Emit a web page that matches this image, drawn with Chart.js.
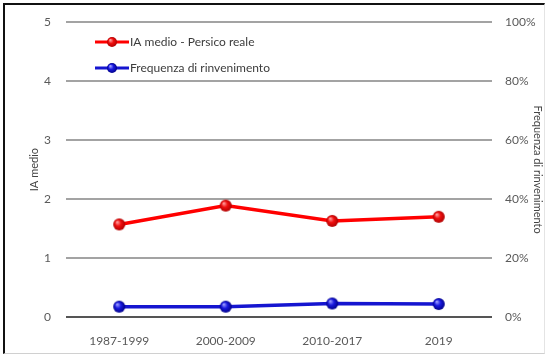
<!DOCTYPE html>
<html>
<head>
<meta charset="utf-8">
<script src="https://cdn.jsdelivr.net/npm/chart.js@4.4.1/dist/chart.umd.min.js"></script>
<style>
  html, body { margin: 0; padding: 0; background: #fff; }
  #wrap { position: relative; width: 546px; height: 354px; }
  #c { position: absolute; left: 0; top: 0; }
  #frame {
    position: absolute; left: 3px; top: 3px; width: 539px; height: 348px;
    border-top: 2px solid #111; border-left: 2px solid #111;
    border-right: 1px solid #e4e4e4; border-bottom: 1px solid #d0d0d0;
    pointer-events: none;
  }
</style>
</head>
<body>
<div id="wrap">
  <canvas id="c" width="546" height="354"></canvas>
  <div id="frame"></div>
</div>
<script>
// Periods on the horizontal axis
const categories = ['1987-1999', '2000-2009', '2010-2017', '2019'];
// Mean abundance index (left axis)
const iaMedio = [1.57, 1.89, 1.63, 1.70];
// Frequency of occurrence, percent (right axis)
const frequenza = [3.5, 3.5, 4.6, 4.4];
// Axis ticks
const leftTicks = [0, 1, 2, 3, 4, 5];
const rightTicks = [0, 20, 40, 60, 80, 100];

const FONT = 'Lato, "Open Sans", sans-serif';
const TXT = '#5a5a5a';

// Shaded ball marker
function ball(fill, dark, light, r) {
  const s = r * 2 + 4;
  const cv = document.createElement('canvas');
  cv.width = s; cv.height = s;
  const g = cv.getContext('2d');
  const c = s / 2;
  const grad = g.createRadialGradient(c - r * 0.35, c - r * 0.4, 0.5, c, c, r);
  grad.addColorStop(0, light);
  grad.addColorStop(0.45, fill);
  grad.addColorStop(1, dark);
  g.beginPath(); g.arc(c, c, r, 0, Math.PI * 2);
  g.fillStyle = grad; g.fill();
  return cv;
}
// Legend symbol: line with a ball in the middle
function legendIcon(line, fill, dark, light) {
  const w = 34, h = 14;
  const cv = document.createElement('canvas');
  cv.width = w; cv.height = h;
  const g = cv.getContext('2d');
  g.strokeStyle = line; g.lineWidth = 3;
  g.beginPath(); g.moveTo(0, h / 2); g.lineTo(w, h / 2); g.stroke();
  g.drawImage(ball(fill, dark, light, 5), w / 2 - 7, h / 2 - 7);
  return cv;
}

const redBall = ball('#f01010', '#b00000', '#ff9a9a', 6);
const blueBall = ball('#1a1ae0', '#00008a', '#9a9aff', 6);
const redIcon = legendIcon('#ff0000', '#f01010', '#b00000', '#ff9a9a');
const blueIcon = legendIcon('#1515d0', '#1a1ae0', '#00008a', '#9a9aff');

// Legend drawn inside the plot area, top-left
const insideLegend = {
  id: 'insideLegend',
  afterDatasetsDraw(chart) {
    const ctx = chart.ctx;
    const icons = [redIcon, blueIcon];
    ctx.save();
    ctx.font = '12px ' + FONT;
    ctx.fillStyle = '#3c3c3c';
    ctx.textBaseline = 'middle';
    chart.data.datasets.forEach((ds, i) => {
      const y = 42 + i * 26;
      ctx.drawImage(icons[i], 95, y - 7);
      ctx.fillText(ds.label, 130, y);
    });
    ctx.restore();
  }
};

new Chart(document.getElementById('c'), {
  type: 'line',
  data: {
    labels: categories,
    datasets: [
      {
        label: 'IA medio - Persico reale',
        data: iaMedio,
        yAxisID: 'y',
        borderColor: '#ff0000',
        borderWidth: 3.5,
        pointStyle: redBall,
        pointRadius: 6,
        tension: 0
      },
      {
        label: 'Frequenza di rinvenimento',
        data: frequenza,
        yAxisID: 'y1',
        borderColor: '#1515d0',
        borderWidth: 3.5,
        pointStyle: blueBall,
        pointRadius: 6,
        tension: 0
      }
    ]
  },
  options: {
    responsive: false,
    animation: false,
    layout: { padding: { left: 4, right: 0, top: 22, bottom: 0 } },
    plugins: { legend: { display: false }, tooltip: { enabled: false } },
    scales: {
      x: {
        offset: true,
        grid: { display: false },
        border: { display: false },
        ticks: { color: TXT, font: { family: FONT, size: 12 }, padding: 9 },
        afterFit(s) { s.height = 37; }
      },
      y: {
        position: 'left',
        min: 0, max: 5,
        afterBuildTicks(s) { s.ticks = leftTicks.map(v => ({ value: v })); },
        grid: {
          drawTicks: false,
          lineWidth: 2,
          color: c => c.tick && c.tick.value === 0 ? '#555' : '#a3a3a3'
        },
        border: { display: false },
        ticks: { color: TXT, font: { family: FONT, size: 12 }, padding: 15 },
        title: {
          display: true, text: 'IA medio', color: '#444',
          font: { family: FONT, size: 11 }, padding: { top: 24, bottom: 0 }
        },
        afterFit(s) { s.width = 62; }
      },
      y1: {
        position: 'right',
        min: 0, max: 100,
        afterBuildTicks(s) { s.ticks = rightTicks.map(v => ({ value: v })); },
        grid: { display: false, drawOnChartArea: false, drawTicks: false },
        border: { display: false },
        ticks: {
          color: TXT, font: { family: FONT, size: 12 }, padding: 13,
          callback: v => v + '%'
        },
        title: {
          display: true, text: 'Frequenza di rinvenimento', color: '#444',
          font: { family: FONT, size: 11 }, padding: { top: 2, bottom: 0 }
        },
        afterFit(s) { s.width = 54; }
      }
    }
  },
  plugins: [insideLegend]
});
</script>
</body>
</html>
